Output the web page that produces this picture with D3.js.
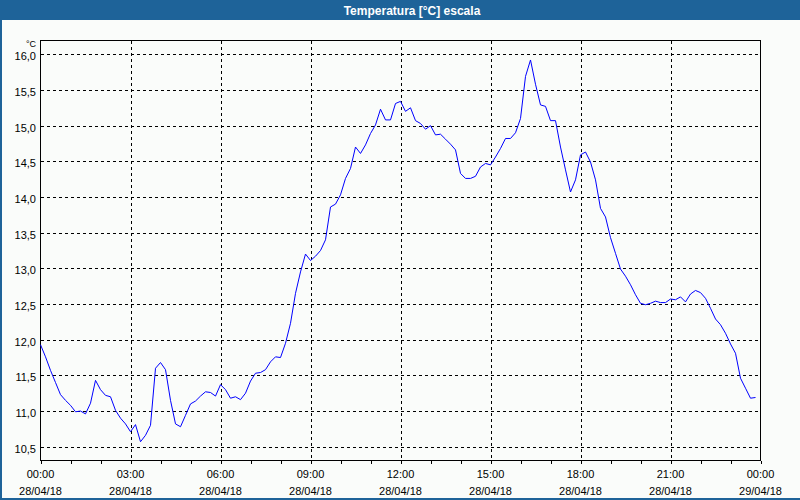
<!DOCTYPE html>
<html><head><meta charset="utf-8">
<script src="https://cdn.jsdelivr.net/npm/d3@7"></script>
<style>html,body{margin:0;padding:0;background:#fafcfa;}svg{display:block;}</style>
</head><body>
<svg id="c" width="800" height="500"></svg>
<script>
const title = "Temperatura [°C] escala";
const unitLabel = "°C";
const startTime = "2018-04-28T00:00:00";
const endTime = "2018-04-29T00:00:00";
const stepMinutes = 10;
const temperatures = [
 11.93,11.76,11.57,11.40,11.23,11.15,11.08,10.99,11.00,10.96,
 11.11,11.43,11.30,11.22,11.20,11.01,10.90,10.82,10.71,10.81,
 10.57,10.66,10.80,11.60,11.68,11.58,11.15,10.82,10.78,10.94,
 11.10,11.14,11.21,11.27,11.26,11.21,11.37,11.30,11.18,11.20,
 11.16,11.25,11.42,11.53,11.54,11.58,11.69,11.76,11.75,11.95,
 12.23,12.65,12.95,13.20,13.11,13.17,13.25,13.40,13.86,13.90,
 14.03,14.26,14.40,14.70,14.61,14.73,14.89,15.01,15.23,15.08,
 15.08,15.31,15.34,15.20,15.25,15.07,15.03,14.95,15.00,14.87,
 14.88,14.81,14.74,14.66,14.33,14.26,14.26,14.29,14.42,14.47,
 14.45,14.56,14.68,14.82,14.82,14.90,15.10,15.69,15.92,15.58,
 15.29,15.27,15.07,15.07,14.70,14.38,14.07,14.24,14.59,14.63,
 14.49,14.24,13.84,13.72,13.43,13.21,12.99,12.89,12.77,12.63,
 12.51,12.49,12.51,12.54,12.52,12.52,12.57,12.56,12.60,12.53,
 12.64,12.69,12.66,12.58,12.44,12.29,12.21,12.09,11.94,11.81,
 11.46,11.32,11.18,11.19
];
const yTicks = [10.5,11.0,11.5,12.0,12.5,13.0,13.5,14.0,14.5,15.0,15.5,16.0];
const yDomain = [10.307, 16.193];
const xTickTimes = ["2018-04-28T00:00:00","2018-04-28T03:00:00","2018-04-28T06:00:00","2018-04-28T09:00:00","2018-04-28T12:00:00","2018-04-28T15:00:00","2018-04-28T18:00:00","2018-04-28T21:00:00","2018-04-29T00:00:00"];
const xTickHours = ["00:00","03:00","06:00","09:00","12:00","15:00","18:00","21:00","00:00"];
const xTickDates = ["28/04/18","28/04/18","28/04/18","28/04/18","28/04/18","28/04/18","28/04/18","28/04/18","29/04/18"];

const svg = d3.select("#c");
const W = 800, H = 500;
const L = 40.5, R = 760.5, T = 40.5, B = 460.5;
const font = "'Liberation Sans', Arial, sans-serif";

svg.append("rect").attr("x",0).attr("y",0).attr("width",W).attr("height",H).attr("fill","#fafcfa");
svg.append("rect").attr("x",0).attr("y",0).attr("width",W).attr("height",20).attr("fill","#1e6399");
svg.append("rect").attr("x",0).attr("y",20).attr("width",2).attr("height",H-20).attr("fill","#1e6399");
svg.append("rect").attr("x",0).attr("y",498).attr("width",W).attr("height",2).attr("fill","#1e6399");
svg.append("text").attr("x",412).attr("y",14.5).attr("text-anchor","middle")
  .attr("font-family",font).attr("font-size","12px").attr("font-weight","bold").attr("fill","#ffffff").text(title);

const t0 = new Date(startTime);
const data = temperatures.map((v,i)=>({t:d3.timeMinute.offset(t0, i*stepMinutes), v}));
const x = d3.scaleTime().domain([new Date(startTime), new Date(endTime)]).range([L,R]);
const y = d3.scaleLinear().domain(yDomain).range([B,T]);

const g = svg.append("g");
// grid
g.selectAll(".hg").data(yTicks).join("line")
  .attr("x1",L).attr("x2",R).attr("y1",d=>Math.round(y(d))+0.5).attr("y2",d=>Math.round(y(d))+0.5)
  .attr("stroke","#000").attr("stroke-width",1).attr("stroke-dasharray","3,3").attr("shape-rendering","crispEdges");
g.selectAll(".vg").data(xTickTimes.slice(1,-1)).join("line")
  .attr("x1",d=>Math.round(x(new Date(d)))+0.5).attr("x2",d=>Math.round(x(new Date(d)))+0.5).attr("y1",T).attr("y2",B)
  .attr("stroke","#000").attr("stroke-width",1).attr("stroke-dasharray","3,3").attr("shape-rendering","crispEdges");

// frame
g.append("rect").attr("x",L).attr("y",T).attr("width",R-L).attr("height",B-T)
  .attr("fill","none").attr("stroke","#000").attr("stroke-width",1).attr("shape-rendering","crispEdges");

// bottom axis with hourly ticks
const xAxis = d3.axisBottom(x).ticks(d3.timeHour.every(1)).tickSize(3).tickFormat("");
const ax = svg.append("g").attr("transform",`translate(0,${B})`).call(xAxis);
ax.select(".domain").remove();
ax.selectAll("line").attr("stroke","#000").attr("shape-rendering","crispEdges");

// x labels
const xl = svg.append("g").attr("font-family",font).attr("font-size","11px").attr("fill","#000");
xTickTimes.forEach((d,i)=>{
  const px = x(new Date(d));
  xl.append("text").attr("x",px).attr("y",478).attr("text-anchor","middle").text(xTickHours[i]);
  xl.append("text").attr("x",px).attr("y",495).attr("text-anchor","middle").text(xTickDates[i]);
});

// y labels
const yl = svg.append("g").attr("font-family",font).attr("font-size","11px").attr("fill","#000");
yTicks.forEach(d=>{
  yl.append("text").attr("x",36).attr("y",y(d)+6).attr("text-anchor","end").text(d.toFixed(1).replace(".",","));
});
yl.append("text").attr("x",36).attr("y",47).attr("text-anchor","end").attr("font-size","9px").text(unitLabel);

// line
const line = d3.line().x(d=>x(d.t)).y(d=>y(d.v));
svg.append("path").datum(data).attr("d",line).attr("fill","none").attr("stroke","#0000ff").attr("stroke-width",1);
</script>
</body></html>
